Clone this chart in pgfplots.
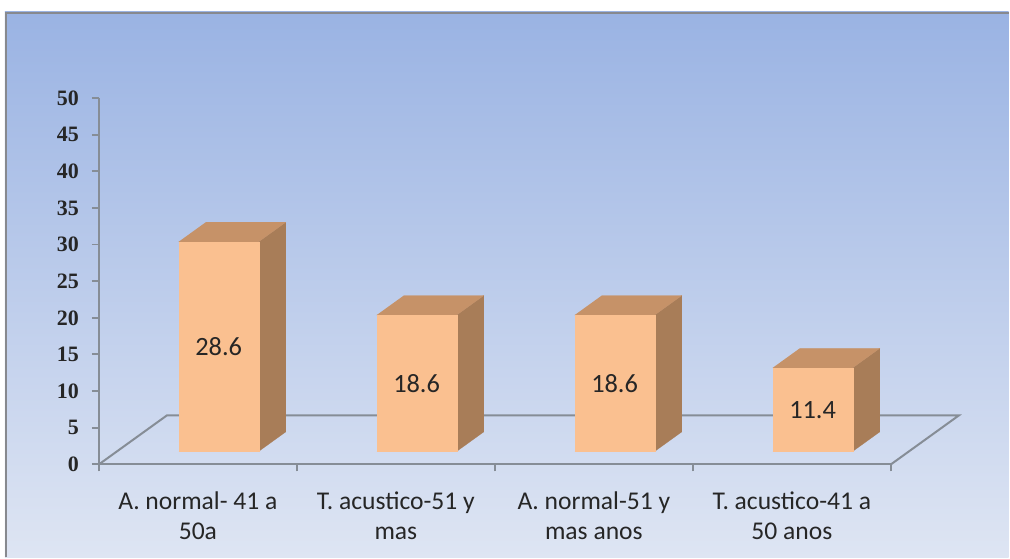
\documentclass[border=0pt]{standalone}
\usepackage{pgfplots}
\pgfplotsset{compat=1.18}
\usepackage{fontspec}
\setmainfont{Carlito}
\newfontfamily\tickfont{Liberation Serif}
\usetikzlibrary{backgrounds}

\definecolor{bgtop}{RGB}{154,179,227}
\definecolor{bgbottom}{RGB}{222,229,243}
\definecolor{framegray}{RGB}{135,137,142}
\definecolor{axisgray}{RGB}{134,141,150}
\definecolor{barfront}{RGB}{250,192,144}
\definecolor{bartop}{RGB}{198,146,104}
\definecolor{barside}{RGB}{168,125,88}

% one 3-D column: left and right edge of the front face, value
\newcommand\barbox[3]{%
  \addplot3[fill=barside, draw=barside, line width=0.1pt]
    coordinates {(#2,0.265,0) (#2,0.665,0) (#2,0.665,#3) (#2,0.265,#3)};
  \addplot3[fill=bartop, draw=bartop, line width=0.1pt]
    coordinates {(#1,0.265,#3) (#2,0.265,#3) (#2,0.665,#3) (#1,0.665,#3)};
  \addplot3[fill=barfront, draw=barfront, line width=0.1pt]
    coordinates {(#1,0.265,0) (#2,0.265,0) (#2,0.265,#3) (#1,0.265,#3)};
  \node[font=\fontsize{13.2pt}{15pt}\selectfont, text=black!85]
    at (axis cs:#1/2+#2/2,0.265,#3/2) {#3};
}

\begin{document}
\begin{tikzpicture}
% value axis and category axis (front edge of the floor)
\begin{axis}[
  at={(0,0)}, anchor=south west,
  scale only axis, width=396.5pt, height=183.5pt,
  xmin=0, xmax=4, ymin=0, ymax=50,
  axis lines=left,
  axis line style={-, draw=axisgray, line width=1pt},
  tick align=outside, major tick length=3.5pt,
  tick style={draw=axisgray, line width=1pt},
  xtick={0,1,2,3,4}, xticklabels={},
  extra x ticks={0.5,1.5,2.5,3.5},
  extra x tick labels={A. normal- 41 a\\50a, T. acustico-51 y\\mas,
                       A. normal-51 y\\mas anos, T. acustico-41 a\\50 anos},
  extra x tick style={major tick length=0pt,
    xticklabel style={align=center, yshift=-10pt, text=black!85,
      font=\fontsize{12.8pt}{15pt}\selectfont}},
  ytick={0,5,...,50},
  /pgf/number format/assume math mode=true,
  yticklabel style={font=\tickfont\bfseries\fontsize{11pt}{12pt}\selectfont,
    xshift=-3pt, text=black!85},
]
\end{axis}

% floor and columns in oblique projection
\begin{axis}[
  at={(0,0)}, anchor=origin,
  x={(99.125pt,0pt)}, y={(34pt,24.5pt)}, z={(0pt,3.67pt)},
  xmin=0, xmax=4, ymin=0, ymax=1, zmin=0, zmax=50,
  hide axis, clip=false, no markers,
]
\addplot3[draw=axisgray, line width=1pt]
  coordinates {(0,0,0) (0,1,0) (4,1,0) (4,0,0)};
\barbox{0.312}{0.716}{28.6}
\barbox{1.312}{1.716}{18.6}
\barbox{2.312}{2.716}{18.6}
\barbox{3.312}{3.716}{11.4}
\end{axis}

\begin{scope}[on background layer]
  \fill[white] (-49.5pt,-46.5pt) rectangle (455.5pt,232.5pt);
  \shade[top color=bgtop, bottom color=bgbottom]
    (-47pt,-46.5pt) rectangle (455.5pt,226.5pt);
  \draw[framegray, line width=1.3pt]
    (-46.4pt,-46.5pt) -- (-46.4pt,225.9pt) -- (455.5pt,225.9pt);
\end{scope}
\end{tikzpicture}
\end{document}
